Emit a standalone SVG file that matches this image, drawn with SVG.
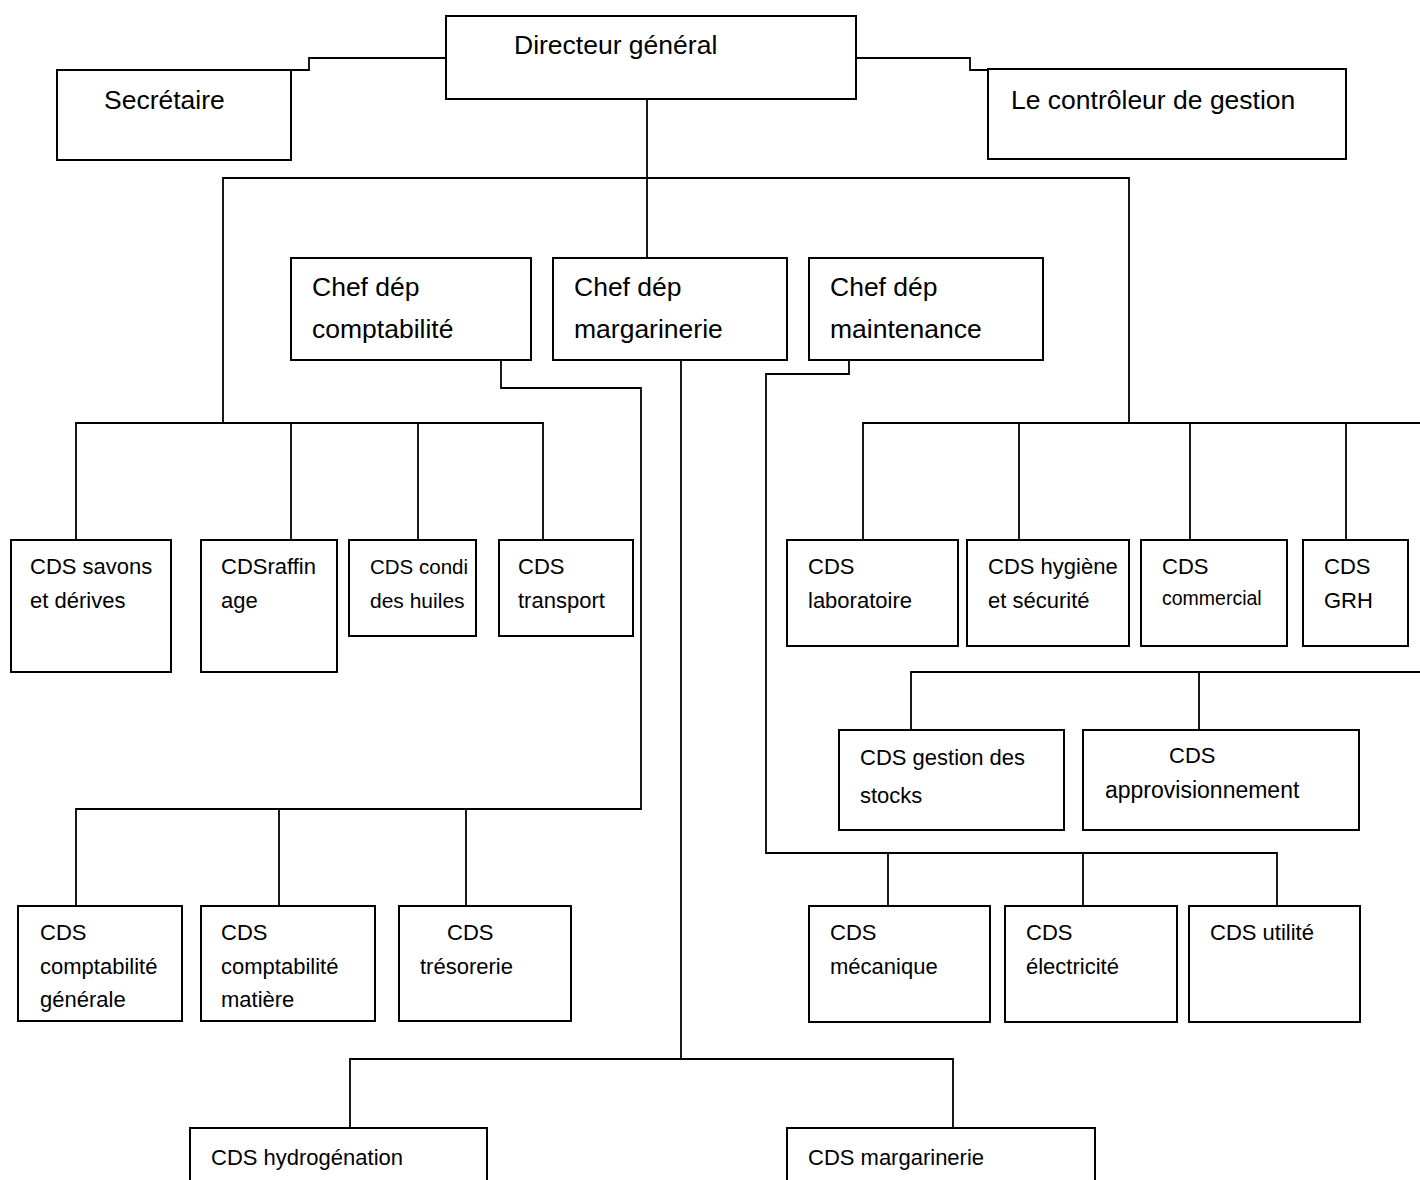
<svg xmlns="http://www.w3.org/2000/svg" width="1420" height="1180" viewBox="0 0 1420 1180">
  <style>
    .box { fill: #ffffff; stroke: #000000; stroke-width: 2; }
    .wire { fill: none; stroke: #000000; stroke-width: 1.8; }
    .big { font-family: "Liberation Sans", Arial, sans-serif; font-size: 26.5px; fill: #000000; }
    .small { font-family: "Liberation Sans", Arial, sans-serif; font-size: 22px; fill: #000000; }
    .tiny { font-family: "Liberation Sans", Arial, sans-serif; font-size: 19.5px; fill: #000000; }
  </style>
  <rect width="1420" height="1180" fill="#ffffff"/>

  <!-- connectors -->
  <g id="connectors">
    <path class="wire" d="M291,70 H309 V58 H446"/>
    <path class="wire" d="M856,58 H970 V70 H988"/>
    <path class="wire" d="M647,99 V258"/>
    <path class="wire" d="M223,423 V178 H1129 V423"/>
    <!-- left service row -->
    <path class="wire" d="M76,540 V423 H543 V540"/>
    <path class="wire" d="M291,423 V540"/>
    <path class="wire" d="M418,423 V540"/>
    <!-- right service row -->
    <path class="wire" d="M863,540 V423 H1420"/>
    <path class="wire" d="M1019,423 V540"/>
    <path class="wire" d="M1190,423 V540"/>
    <path class="wire" d="M1346,423 V540"/>
    <!-- stocks / supply row -->
    <path class="wire" d="M911,730 V672 H1420"/>
    <path class="wire" d="M1199,672 V730"/>
    <!-- accounting department -->
    <path class="wire" d="M501,360 V388 H641 V809 H76 V906"/>
    <path class="wire" d="M279,809 V906"/>
    <path class="wire" d="M466,809 V906"/>
    <!-- maintenance department -->
    <path class="wire" d="M849,360 V374 H766 V853 H1277 V906"/>
    <path class="wire" d="M888,853 V906"/>
    <path class="wire" d="M1083,853 V906"/>
    <!-- margarine department -->
    <path class="wire" d="M681,360 V1059"/>
    <path class="wire" d="M350,1128 V1059 H953 V1128"/>
  </g>

  <!-- top management -->
  <g id="directeur">
    <rect class="box" x="446" y="16" width="410" height="83"/>
    <text class="big" x="514" y="54">Directeur général</text>
  </g>
  <g id="secretaire">
    <rect class="box" x="57" y="70" width="234" height="90"/>
    <text class="big" x="104" y="109">Secrétaire</text>
  </g>
  <g id="controleur">
    <rect class="box" x="988" y="69" width="358" height="90"/>
    <text class="big" x="1011" y="109">Le contrôleur de gestion</text>
  </g>

  <!-- department heads -->
  <g id="chef-comptabilite">
    <rect class="box" x="291" y="258" width="240" height="102"/>
    <text class="big" x="312" y="296">Chef dép</text>
    <text class="big" x="312" y="338">comptabilité</text>
  </g>
  <g id="chef-margarinerie">
    <rect class="box" x="553" y="258" width="234" height="102"/>
    <text class="big" x="574" y="296">Chef dép</text>
    <text class="big" x="574" y="338">margarinerie</text>
  </g>
  <g id="chef-maintenance">
    <rect class="box" x="809" y="258" width="234" height="102"/>
    <text class="big" x="830" y="296">Chef dép</text>
    <text class="big" x="830" y="338">maintenance</text>
  </g>

  <!-- left service row -->
  <g id="cds-savons">
    <rect class="box" x="11" y="540" width="160" height="132"/>
    <text class="small" x="30" y="574">CDS savons</text>
    <text class="small" x="30" y="608">et dérives</text>
  </g>
  <g id="cds-raffinage">
    <rect class="box" x="201" y="540" width="136" height="132"/>
    <text class="small" x="221" y="574">CDSraffin</text>
    <text class="small" x="221" y="608">age</text>
  </g>
  <g id="cds-condi">
    <rect class="box" x="349" y="540" width="127" height="96"/>
    <text class="small" x="370" y="574" style="font-size:20.5px">CDS condi</text>
    <text class="small" x="370" y="608" style="font-size:21px">des huiles</text>
  </g>
  <g id="cds-transport">
    <rect class="box" x="499" y="540" width="134" height="96"/>
    <text class="small" x="518" y="574">CDS</text>
    <text class="small" x="518" y="608">transport</text>
  </g>

  <!-- right service row -->
  <g id="cds-laboratoire">
    <rect class="box" x="787" y="540" width="171" height="106"/>
    <text class="small" x="808" y="574">CDS</text>
    <text class="small" x="808" y="608">laboratoire</text>
  </g>
  <g id="cds-hygiene">
    <rect class="box" x="967" y="540" width="162" height="106"/>
    <text class="small" x="988" y="574">CDS hygiène</text>
    <text class="small" x="988" y="608">et sécurité</text>
  </g>
  <g id="cds-commercial">
    <rect class="box" x="1141" y="540" width="146" height="106"/>
    <text class="small" x="1162" y="574">CDS</text>
    <text class="tiny" x="1162" y="605">commercial</text>
  </g>
  <g id="cds-grh">
    <rect class="box" x="1303" y="540" width="105" height="106"/>
    <text class="small" x="1324" y="574">CDS</text>
    <text class="small" x="1324" y="608">GRH</text>
  </g>

  <!-- stocks and supply -->
  <g id="cds-stocks">
    <rect class="box" x="839" y="730" width="225" height="100"/>
    <text class="small" x="860" y="765">CDS gestion des</text>
    <text class="small" x="860" y="803">stocks</text>
  </g>
  <g id="cds-approvisionnement">
    <rect class="box" x="1083" y="730" width="276" height="100"/>
    <text class="small" x="1169" y="763">CDS</text>
    <text class="small" x="1105" y="798" style="font-size:23px">approvisionnement</text>
  </g>

  <!-- accounting services -->
  <g id="cds-compta-generale">
    <rect class="box" x="18" y="906" width="164" height="115"/>
    <text class="small" x="40" y="940">CDS</text>
    <text class="small" x="40" y="974">comptabilité</text>
    <text class="small" x="40" y="1007">générale</text>
  </g>
  <g id="cds-compta-matiere">
    <rect class="box" x="201" y="906" width="174" height="115"/>
    <text class="small" x="221" y="940">CDS</text>
    <text class="small" x="221" y="974">comptabilité</text>
    <text class="small" x="221" y="1007">matière</text>
  </g>
  <g id="cds-tresorerie">
    <rect class="box" x="399" y="906" width="172" height="115"/>
    <text class="small" x="447" y="940">CDS</text>
    <text class="small" x="420" y="974">trésorerie</text>
  </g>

  <!-- maintenance services -->
  <g id="cds-mecanique">
    <rect class="box" x="809" y="906" width="181" height="116"/>
    <text class="small" x="830" y="940">CDS</text>
    <text class="small" x="830" y="974">mécanique</text>
  </g>
  <g id="cds-electricite">
    <rect class="box" x="1005" y="906" width="172" height="116"/>
    <text class="small" x="1026" y="940">CDS</text>
    <text class="small" x="1026" y="974">électricité</text>
  </g>
  <g id="cds-utilite">
    <rect class="box" x="1189" y="906" width="171" height="116"/>
    <text class="small" x="1210" y="940">CDS utilité</text>
  </g>

  <!-- margarine services -->
  <g id="cds-hydrogenation">
    <rect class="box" x="190" y="1128" width="297" height="70"/>
    <text class="small" x="211" y="1165">CDS hydrogénation</text>
  </g>
  <g id="cds-margarinerie">
    <rect class="box" x="787" y="1128" width="308" height="70"/>
    <text class="small" x="808" y="1165">CDS margarinerie</text>
  </g>
</svg>
